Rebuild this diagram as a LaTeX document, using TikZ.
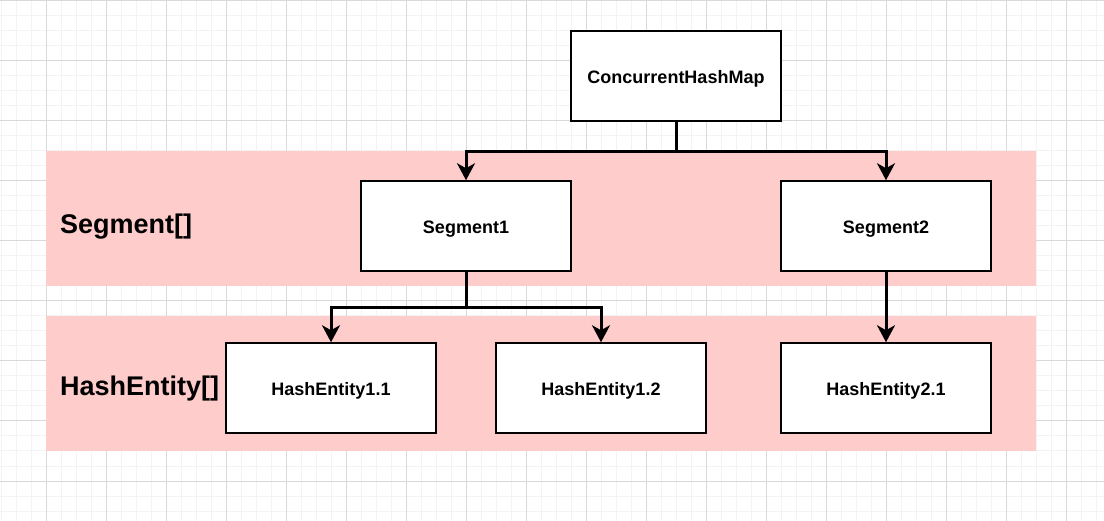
\documentclass[tikz,border=0pt]{standalone}
\usepackage{fontspec}
\setmainfont{Liberation Sans}
\usetikzlibrary{arrows.meta}
\usetikzlibrary{positioning}
\definecolor{bandpink}{HTML}{FFCCCC}
\definecolor{gridmajor}{HTML}{D9D9D9}
\definecolor{gridminor}{HTML}{F3F3F3}
\tikzset{box/.style = {draw, fill = white, line width = 1.5pt,
                       minimum width = 210pt, minimum height = 90pt, inner sep = 0,
                       text height = 16pt, text depth = 0pt,
                       font = \fontsize{18}{20}\selectfont\bfseries}}
\tikzset{lbl/.style = {anchor = base west, inner sep = 0,
                       font = \fontsize{27}{30}\selectfont\bfseries}}
\tikzset{arr/.style = {line width = 3pt,
                       -{Stealth[length = 17pt, width = 18pt, inset = 5pt]}}}
\tikzset{band/.style = {fill = bandpink}}

\begin{document}
\begin{tikzpicture}[x = 1pt, y = -1pt]
    \useasboundingbox (0, 0) rectangle (1104, 521);
    \fill [white] (0, 0) rectangle (1104, 521);

    % grid
    \foreach \x in {1, 16, ..., 1104} \draw [gridminor, line width = 1pt] (\x, 0) -- (\x, 521);
    \foreach \y in {1, 16, ..., 521} \draw [gridminor, line width = 1pt] (0, \y) -- (1104, \y);
    \foreach \x in {46, 106, ..., 1104} \draw [gridmajor, line width = 1pt] (\x, 0) -- (\x, 521);
    \foreach \y in {1, 61, ..., 521} \draw [gridmajor, line width = 1pt] (0, \y) -- (1104, \y);

    % bands
    \fill [band] (46, 151) rectangle (1036, 286);
    \fill [band] (46, 316) rectangle (1036, 451);
    \node [lbl] (seglbl) at (60, 234) {Segment[]};
    \node [lbl] (entlbl) at (60, 396) {HashEntity[]};

    \node [box] (chm) at (676, 76) {ConcurrentHashMap};
    \node [box] (seg1) at (466, 226) {Segment1};
    \node [box] (seg2) at (886, 226) {Segment2};
    \node [box] (ent11) at (331, 388) {HashEntity1.1};
    \node [box] (ent12) at (601, 388) {HashEntity1.2};
    \node [box] (ent21) at (886, 388) {HashEntity2.1};

    \draw [arr] (chm.south) -- ++(0, 30) -| (seg1.north);
    \draw [arr] (chm.south) -- ++(0, 30) -| (seg2.north);
    \draw [arr] (seg1.south) -- ++(0, 36) -| (ent11.north);
    \draw [arr] (seg1.south) -- ++(0, 36) -| (ent12.north);
    \draw [arr] (seg2.south) -- (ent21.north);
  \end{tikzpicture}
\end{document}
